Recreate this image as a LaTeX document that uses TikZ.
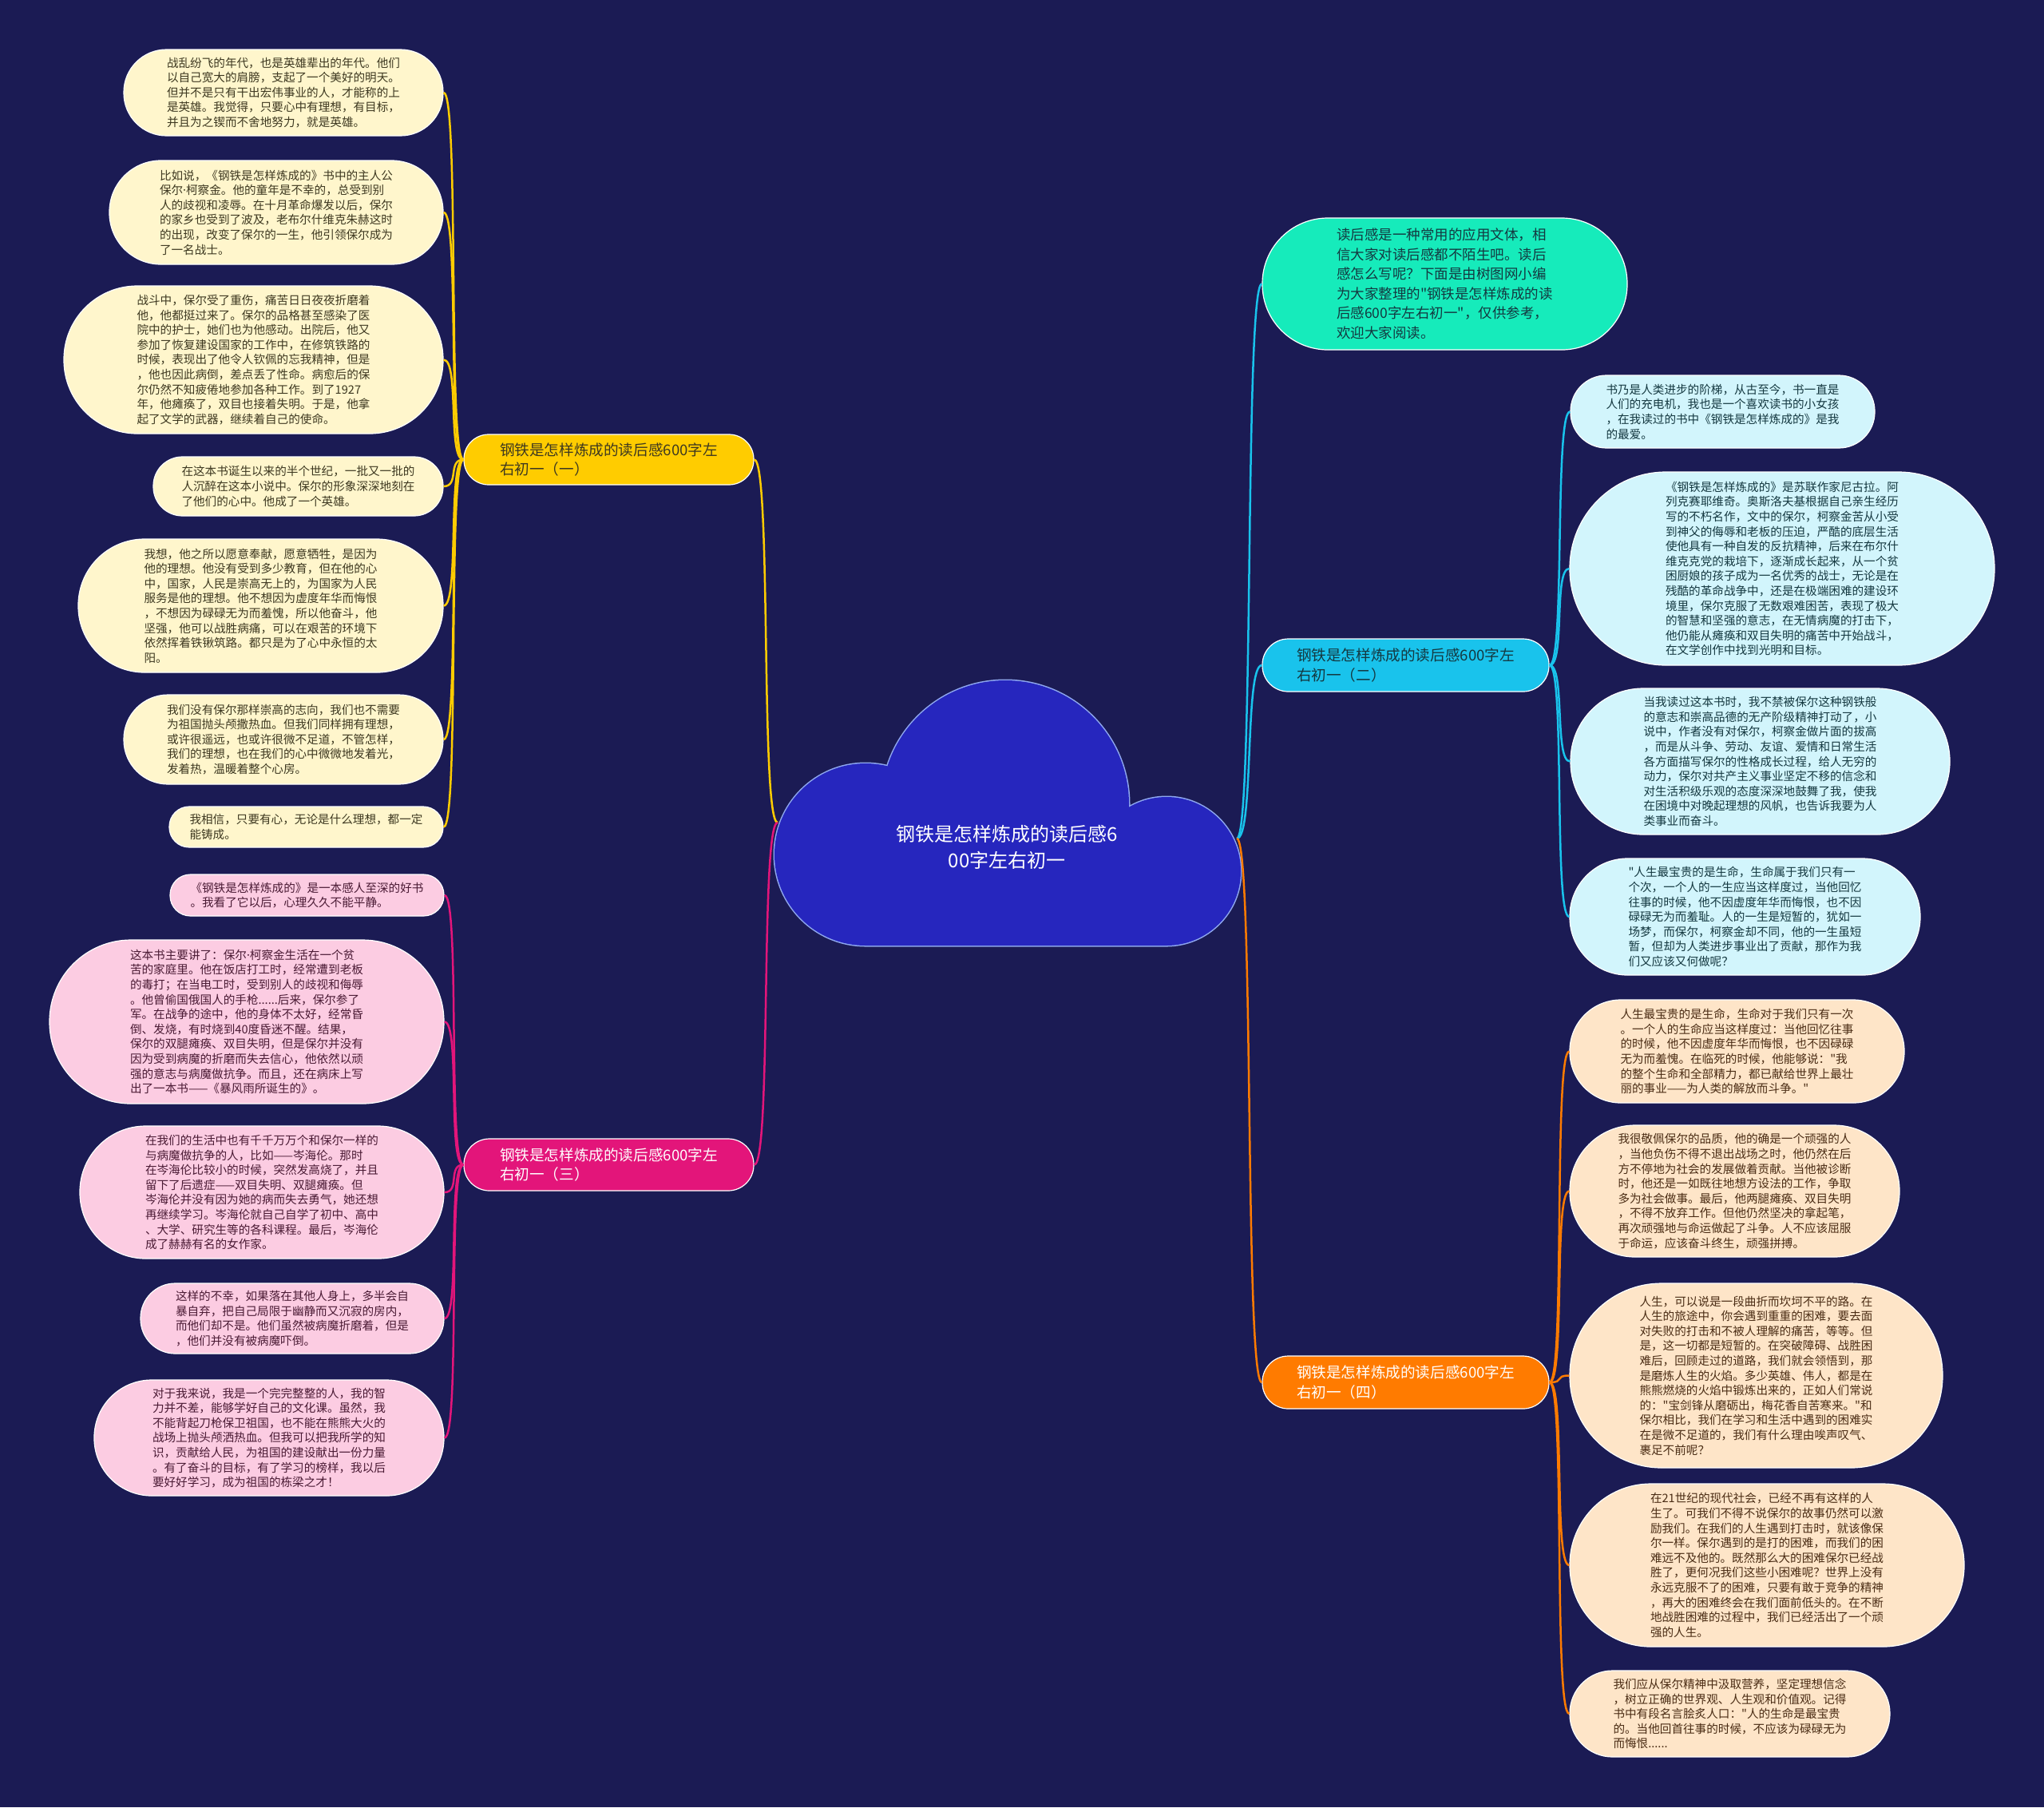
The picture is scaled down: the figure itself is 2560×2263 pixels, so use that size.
\documentclass[tikz,border=0pt]{standalone}
\usepackage{fontspec}
\setmainfont{Noto Sans CJK SC}[Ligatures=TeXOff]
\newfontfamily\latinfont{Noto Sans}
\newcommand{\mdot}{{\latinfont ·}}
\definecolor{bgcol}{HTML}{1B1B54}
\definecolor{cloudcol}{HTML}{2626BE}
\definecolor{cloudedge}{HTML}{8FA8F0}
\definecolor{ycol}{HTML}{FFCC00}
\definecolor{pcol}{HTML}{E3157A}
\definecolor{ccol}{HTML}{19C3EC}
\definecolor{ocol}{HTML}{FF7B00}
\definecolor{introcol}{HTML}{16EBBB}
\definecolor{yfill}{HTML}{FFF6CC}
\definecolor{pfill}{HTML}{FCCCE2}
\definecolor{cfill}{HTML}{D2F5FC}
\definecolor{ofill}{HTML}{FEE5C8}
\definecolor{ytext}{HTML}{3D3820}
\definecolor{ptext}{HTML}{4A1A34}
\definecolor{ctext}{HTML}{143840}
\definecolor{otext}{HTML}{4A2C14}
\tikzset{
  stad/.style 2 args={minimum width=#1pt, minimum height=#2pt, rounded corners=#2pt/2-0.5pt},
  leaf/.style={draw=white, line width=1.2pt, inner sep=0pt, align=left,
    font=\fontsize{14.6}{18.6}\selectfont},
  yleaf/.style={leaf, fill=yfill, text=ytext},
  pleaf/.style={leaf, fill=pfill, text=ptext},
  cleaf/.style={leaf, fill=cfill, text=ctext},
  oleaf/.style={leaf, fill=ofill, text=otext},
  branch/.style={draw=white, line width=1.2pt, inner sep=0pt, align=left,
    font=\fontsize{18.6}{24.5}\selectfont},
  ylink/.style={draw=ycol, line width=2.5pt},
  plink/.style={draw=pcol, line width=2.5pt},
  clink/.style={draw=ccol, line width=2.5pt},
  olink/.style={draw=ocol, line width=2.5pt}
}
\begin{document}
\begin{tikzpicture}[x=1pt, y=-1pt]
        \fill[bgcol] (0,0) rectangle (2560,2263);
        \useasboundingbox (0,0) rectangle (2560,2263);

        % centre cloud
        \draw[cloudedge, line width=3pt] (1084,1070) circle (114pt) (1259,1007) circle (155pt)
                (1461,1091) circle (93pt) (1084,1070) rectangle (1461,1184);
        \fill[cloudcol] (1084,1070) circle (114pt) (1259,1007) circle (155pt)
                (1461,1091) circle (93pt) (1084,1070) rectangle (1461,1184);
        \node[text=white, align=center, font=\fontsize{24}{33}\selectfont] (root) at (1261,1061)
                {钢铁是怎样炼成的读后感6\\00字左右初一};
        \coordinate (cl) at (974,1030);
        \coordinate (cr) at (1549,1050);

        % branches
        \node[branch, fill=ycol, text=ytext, stad={363}{63}] (b1) at (762.5,575.5)
                {钢铁是怎样炼成的读后感600字左\\右初一（一）};
        \node[branch, fill=ccol, text=ctext, stad={359}{66}] (b2) at (1760.5,833)
                {钢铁是怎样炼成的读后感600字左\\右初一（二）};
        \node[branch, fill=pcol, text=white, stad={363}{65}] (b3) at (762.5,1458.5)
                {钢铁是怎样炼成的读后感600字左\\右初一（三）};
        \node[branch, fill=ocol, text=white, stad={359}{66}] (b4) at (1760.5,1731)
                {钢铁是怎样炼成的读后感600字左\\右初一（四）};
        \node[leaf, fill=introcol, text=ctext, font=\fontsize{17.5}{24.5}\selectfont, stad={457}{165}] (intro) at (1809.5,355.5)
                {读后感是一种常用的应用文体，相\\信大家对读后感都不陌生吧。读后\\感怎么写呢？下面是由树图网小编\\为大家整理的"钢铁是怎样炼成的读\\后感600字左右初一"，仅供参考，\\欢迎大家阅读。};

        % branch one
        \node[yleaf, stad={400}{108}] (y1) at (355,116)
                {战乱纷飞的年代，也是英雄辈出的年代。他们\\以自己宽大的肩膀，支起了一个美好的明天。\\但并不是只有干出宏伟事业的人，才能称的上\\是英雄。我觉得，只要心中有理想，有目标，\\并且为之锲而不舍地努力，就是英雄。};
        \node[yleaf, stad={418}{130}] (y2) at (346,266)
                {比如说，《钢铁是怎样炼成的》书中的主人公\\保尔\mdot 柯察金。他的童年是不幸的，总受到别\\人的歧视和凌辱。在十月革命爆发以后，保尔\\的家乡也受到了波及，老布尔什维克朱赫这时\\的出现，改变了保尔的一生，他引领保尔成为\\了一名战士。};
        \node[yleaf, stad={475}{185}] (y3) at (317.5,450.5)
                {战斗中，保尔受了重伤，痛苦日日夜夜折磨着\\他，他都挺过来了。保尔的品格甚至感染了医\\院中的护士，她们也为他感动。出院后，他又\\参加了恢复建设国家的工作中，在修筑铁路的\\时候，表现出了他令人钦佩的忘我精神，但是\\，他也因此病倒，差点丢了性命。病愈后的保\\尔仍然不知疲倦地参加各种工作。到了1927\\年，他瘫痪了，双目也接着失明。于是，他拿\\起了文学的武器，继续着自己的使命。};
        \node[yleaf, stad={363}{74}] (y4) at (373.5,609)
                {在这本书诞生以来的半个世纪，一批又一批的\\人沉醉在这本小说中。保尔的形象深深地刻在\\了他们的心中。他成了一个英雄。};
        \node[yleaf, stad={457}{167}] (y5) at (326.5,758.5)
                {我想，他之所以愿意奉献，愿意牺牲，是因为\\他的理想。他没有受到多少教育，但在他的心\\中，国家，人民是崇高无上的，为国家为人民\\服务是他的理想。他不想因为虚度年华而悔恨\\，不想因为碌碌无为而羞愧，所以他奋斗，他\\坚强，他可以战胜病痛，可以在艰苦的环境下\\依然挥着铁锹筑路。都只是为了心中永恒的太\\阳。};
        \node[yleaf, stad={400}{112}] (y6) at (355,926)
                {我们没有保尔那样崇高的志向，我们也不需要\\为祖国抛头颅撒热血。但我们同样拥有理想，\\或许很遥远，也或许很微不足道，不管怎样，\\我们的理想，也在我们的心中微微地发着光，\\发着热，温暖着整个心房。};
        \node[yleaf, stad={343}{51}] (y7) at (383.5,1035.5)
                {我相信，只要有心，无论是什么理想，都一定\\能铸成。};

        % branch three
        \node[pleaf, stad={343}{52}] (p1) at (384.5,1121)
                {《钢铁是怎样炼成的》是一本感人至深的好书\\。我看了它以后，心理久久不能平静。};
        \node[pleaf, stad={494}{205}] (p2) at (309,1279.5)
                {这本书主要讲了：保尔\mdot 柯察金生活在一个贫\\苦的家庭里。他在饭店打工时，经常遭到老板\\的毒打；在当电工时，受到别人的歧视和侮辱\\。他曾偷国俄国人的手枪......后来，保尔参了\\军。在战争的途中，他的身体不太好，经常昏\\倒、发烧，有时烧到40度昏迷不醒。结果，\\保尔的双腿瘫痪、双目失明，但是保尔并没有\\因为受到病魔的折磨而失去信心，他依然以顽\\强的意志与病魔做抗争。而且，还在病床上写\\出了一本书——《暴风雨所诞生的》。};
        \node[pleaf, stad={456}{166}] (p3) at (328,1493)
                {在我们的生活中也有千千万万个和保尔一样的\\与病魔做抗争的人，比如——岑海伦。那时\\在岑海伦比较小的时候，突然发高烧了，并且\\留下了后遗症——双目失明、双腿瘫痪。但\\岑海伦并没有因为她的病而失去勇气，她还想\\再继续学习。岑海伦就自己自学了初中、高中\\、大学、研究生等的各科课程。最后，岑海伦\\成了赫赫有名的女作家。};
        \node[pleaf, stad={380}{88}] (p4) at (366,1651)
                {这样的不幸，如果落在其他人身上，多半会自\\暴自弃，把自己局限于幽静而又沉寂的房内，\\而他们却不是。他们虽然被病魔折磨着，但是\\，他们并没有被病魔吓倒。};
        \node[pleaf, stad={438}{145}] (p5) at (337,1800.5)
                {对于我来说，我是一个完完整整的人，我的智\\力并不差，能够学好自己的文化课。虽然，我\\不能背起刀枪保卫祖国，也不能在熊熊大火的\\战场上抛头颅洒热血。但我可以把我所学的知\\识，贡献给人民，为祖国的建设献出一份力量\\。有了奋斗的目标，有了学习的榜样，我以后\\要好好学习，成为祖国的栋梁之才！};

        % branch two
        \node[cleaf, stad={381}{91}] (c1) at (2157.5,515.5)
                {书乃是人类进步的阶梯，从古至今，书一直是\\人们的充电机，我也是一个喜欢读书的小女孩\\，在我读过的书中《钢铁是怎样炼成的》是我\\的最爱。};
        \node[cleaf, stad={532}{242}] (c2) at (2232,712)
                {《钢铁是怎样炼成的》是苏联作家尼古拉。阿\\列克赛耶维奇。奥斯洛夫基根据自己亲生经历\\写的不朽名作，文中的保尔，柯察金苦从小受\\到神父的侮辱和老板的压迫，严酷的底层生活\\使他具有一种自发的反抗精神，后来在布尔什\\维克克党的栽培下，逐渐成长起来，从一个贫\\困厨娘的孩子成为一名优秀的战士，无论是在\\残酷的革命战争中，还是在极端困难的建设环\\境里，保尔克服了无数艰难困苦，表现了极大\\的智慧和坚强的意志，在无情病魔的打击下，\\他仍能从瘫痪和双目失明的痛苦中开始战斗，\\在文学创作中找到光明和目标。};
        \node[cleaf, stad={475}{183}] (c3) at (2204.5,953.5)
                {当我读过这本书时，我不禁被保尔这种钢铁般\\的意志和崇高品德的无产阶级精神打动了，小\\说中，作者没有对保尔，柯察金做片面的拔高\\，而是从斗争、劳动、友谊、爱情和日常生活\\各方面描写保尔的性格成长过程，给人无穷的\\动力，保尔对共产主义事业坚定不移的信念和\\对生活积级乐观的态度深深地鼓舞了我，使我\\在困境中对晚起理想的风帆，也告诉我要为人\\类事业而奋斗。};
        \node[cleaf, stad={439}{146}] (c4) at (2185.5,1148)
                {"人生最宝贵的是生命，生命属于我们只有一\\个次，一个人的一生应当这样度过，当他回忆\\往事的时候，他不因虚度年华而悔恨，也不因\\碌碌无为而羞耻。人的一生是短暂的，犹如一\\场梦，而保尔，柯察金却不同，他的一生虽短\\暂，但却为人类进步事业出了贡献，那作为我\\们又应该又何做呢？};

        % branch four
        \node[oleaf, stad={419}{129}] (o1) at (2175.5,1316.5)
                {人生最宝贵的是生命，生命对于我们只有一次\\。一个人的生命应当这样度过：当他回忆往事\\的时候，他不因虚度年华而悔恨，也不因碌碌\\无为而羞愧。在临死的时候，他能够说："我\\的整个生命和全部精力，都已献给世界上最壮\\丽的事业——为人类的解放而斗争。"};
        \node[oleaf, stad={413}{165}] (o2) at (2172.5,1491.5)
                {我很敬佩保尔的品质，他的确是一个顽强的人\\，当他负伤不得不退出战场之时，他仍然在后\\方不停地为社会的发展做着贡献。当他被诊断\\时，他还是一如既往地想方设法的工作，争取\\多为社会做事。最后，他两腿瘫痪、双目失明\\，不得不放弃工作。但他仍然坚决的拿起笔，\\再次顽强地与命运做起了斗争。人不应该屈服\\于命运，应该奋斗终生，顽强拼搏。};
        \node[oleaf, stad={467}{231}] (o3) at (2199.5,1722.5)
                {人生，可以说是一段曲折而坎坷不平的路。在\\人生的旅途中，你会遇到重重的困难，要去面\\对失败的打击和不被人理解的痛苦，等等。但\\是，这一切都是短暂的。在突破障碍、战胜困\\难后，回顾走过的道路，我们就会领悟到，那\\是磨炼人生的火焰。多少英雄、伟人，都是在\\熊熊燃烧的火焰中锻炼出来的，正如人们常说\\的："宝剑锋从磨砺出，梅花香自苦寒来。"和\\保尔相比，我们在学习和生活中遇到的困难实\\在是微不足道的，我们有什么理由唉声叹气、\\裹足不前呢？};
        \node[oleaf, stad={494}{204}] (o4) at (2213,1960)
                {在21世纪的现代社会，已经不再有这样的人\\生了。可我们不得不说保尔的故事仍然可以激\\励我们。在我们的人生遇到打击时，就该像保\\尔一样。保尔遇到的是打的困难，而我们的困\\难远不及他的。既然那么大的困难保尔已经战\\胜了，更何况我们这些小困难呢？世界上没有\\永远克服不了的困难，只要有敢于竞争的精神\\，再大的困难终会在我们面前低头的。在不断\\地战胜困难的过程中，我们已经活出了一个顽\\强的人生。};
        \node[oleaf, stad={401}{108}] (o5) at (2166.5,2146)
                {我们应从保尔精神中汲取营养，坚定理想信念\\，树立正确的世界观、人生观和价值观。记得\\书中有段名言脍炙人口："人的生命是最宝贵\\的。当他回首往事的时候，不应该为碌碌无为\\而悔恨......};

        % connectors from the cloud
        \draw[ylink] (cl) .. controls +(-22,0) and +(22,0) .. (b1.east);
        \draw[plink] (cl) .. controls +(-22,0) and +(22,0) .. (b3.east);
        \draw[clink] (cr) .. controls +(22,0) and +(-22,0) .. (intro.west);
        \draw[clink] (cr) .. controls +(22,0) and +(-22,0) .. (b2.west);
        \draw[olink] (cr) .. controls +(22,0) and +(-22,0) .. (b4.west);

        % connectors to the leaves
        \draw[ylink] (b1.west) .. controls +(-20,0) and +(20,0) .. (y1.east);
        \draw[ylink] (b1.west) .. controls +(-20,0) and +(20,0) .. (y2.east);
        \draw[ylink] (b1.west) .. controls +(-20,0) and +(20,0) .. (y3.east);
        \draw[ylink] (b1.west) .. controls +(-20,0) and +(20,0) .. (y4.east);
        \draw[ylink] (b1.west) .. controls +(-20,0) and +(20,0) .. (y5.east);
        \draw[ylink] (b1.west) .. controls +(-20,0) and +(20,0) .. (y6.east);
        \draw[ylink] (b1.west) .. controls +(-20,0) and +(20,0) .. (y7.east);
        \draw[plink] (b3.west) .. controls +(-20,0) and +(20,0) .. (p1.east);
        \draw[plink] (b3.west) .. controls +(-20,0) and +(20,0) .. (p2.east);
        \draw[plink] (b3.west) .. controls +(-20,0) and +(20,0) .. (p3.east);
        \draw[plink] (b3.west) .. controls +(-20,0) and +(20,0) .. (p4.east);
        \draw[plink] (b3.west) .. controls +(-20,0) and +(20,0) .. (p5.east);
        \draw[clink] (b2.east) .. controls +(20,0) and +(-20,0) .. (c1.west);
        \draw[clink] (b2.east) .. controls +(20,0) and +(-20,0) .. (c2.west);
        \draw[clink] (b2.east) .. controls +(20,0) and +(-20,0) .. (c3.west);
        \draw[clink] (b2.east) .. controls +(20,0) and +(-20,0) .. (c4.west);
        \draw[olink] (b4.east) .. controls +(20,0) and +(-20,0) .. (o1.west);
        \draw[olink] (b4.east) .. controls +(20,0) and +(-20,0) .. (o2.west);
        \draw[olink] (b4.east) .. controls +(20,0) and +(-20,0) .. (o3.west);
        \draw[olink] (b4.east) .. controls +(20,0) and +(-20,0) .. (o4.west);
        \draw[olink] (b4.east) .. controls +(20,0) and +(-20,0) .. (o5.west);
\end{tikzpicture}
\end{document}
